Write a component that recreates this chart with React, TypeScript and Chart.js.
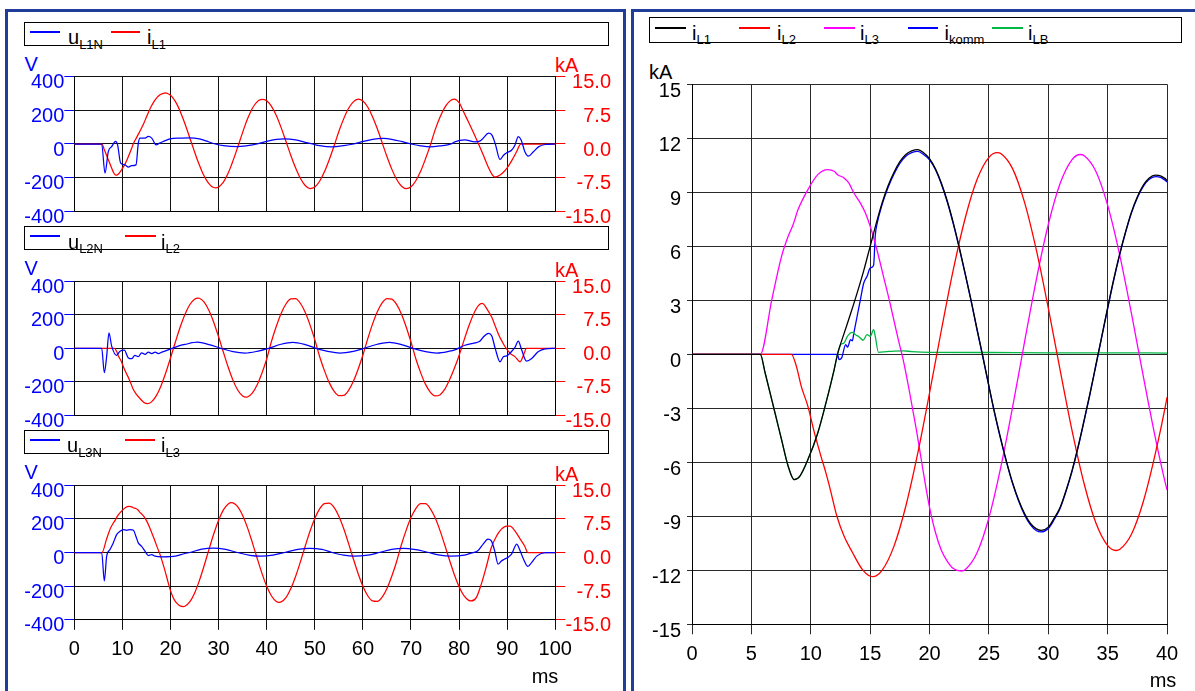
import React, { useEffect, useRef } from "react";
import { Chart, registerables } from "chart.js";

Chart.register(...registerables);

const FONT = 'Arial, "Liberation Sans", Helvetica, sans-serif';

// ---------------- data (ms / kA / V) ----------------

// i_L1 (kA)
const IL1_T = [
  0, 5.75, 6.16, 6.99, 7.54, 8.1, 8.6, 9.07, 9.76, 10.59, 11.28, 11.97, 12.25,
  12.8, 13.35, 13.9, 14.46,
  15, 15.5, 16, 16.5, 17, 17.5, 18, 18.5, 19, 19.5, 20, 20.5, 21, 21.5, 22, 22.5, 23, 23.5, 24, 24.5,
  25, 25.5, 26, 26.5, 27, 27.5, 28, 28.5, 29, 29.4,
  30, 30.5, 31, 31.5, 32, 32.5, 33, 33.5, 34, 34.5, 35, 35.5, 36, 36.5, 37, 37.5, 38, 38.5, 39, 39.5, 40,
  41, 42, 43, 44, 45, 46, 47, 48, 49, 50, 51, 52, 53, 54, 55, 56, 57, 58, 59, 60,
  61, 62, 63, 64, 65, 66, 67, 68, 69, 70, 71, 72, 73, 74, 75, 76, 77, 78, 79, 80,
  81, 82, 83, 84, 85, 86,
  87, 87.4, 88, 89, 90, 91, 92, 92.8, 100,
];
const IL1_V = [
  0, 0, -1.04, -3.26, -4.74, -6.22, -6.96, -6.78, -5.85, -4.37, -2.7, -0.85, 0,
  1.15, 2.25, 3.4, 4.65,
  6.0, 7.25, 8.4, 9.35, 10.1, 10.7, 11.1, 11.3, 11.37, 11.2, 10.87, 10.3, 9.5, 8.5, 7.3, 5.95, 4.5, 3.0, 1.4, -0.15,
  -1.75, -3.3, -4.7, -6.0, -7.15, -8.1, -8.85, -9.4, -9.7, -9.78,
  -9.6, -9.1, -8.5, -7.55, -6.45, -5.15, -3.7, -2.2, -0.6, 1.0, 2.6, 4.15, 5.55, 6.8, 7.9, 8.75, 9.4, 9.8, 9.95, 9.9, 9.65,
  8.4, 6.35, 3.65, 0.6, -2.5, -5.3, -7.65, -9.25, -9.93, -9.6, -8.3, -6.2, -3.5, -0.45, 2.8, 5.6, 7.9, 9.4, 10.0, 9.6,
  8.25, 6.1, 3.4, 0.3, -2.8, -5.6, -7.85, -9.35, -9.95, -9.55, -8.2, -6.1, -3.35, -0.3, 3.1, 5.9, 8.1, 9.5, 10.0, 9.2,
  7.0, 4.8, 2.5, 0.1, -2.4, -5.0,
  -7.0, -7.35, -7.2, -6.5, -5.3, -3.6, -1.6, 0, 0,
];

// i_L2 (kA)
const IL2_T = [
  0, 8.37, 8.79, 9.2, 9.76, 10.31, 10.86, 11.28, 11.64, 12.2, 12.8, 13.5, 14.4, 15.2,
  16, 17, 18, 19, 20, 21, 22, 23, 24, 25, 25.7,
  26, 27, 28, 29, 30, 31, 32, 33, 34, 35, 35.7,
  36, 37, 38, 39, 40, 41, 42, 43, 44, 45, 46, 47, 48, 49, 50, 51, 52, 53, 54, 55,
  56, 57, 58, 59, 60, 61, 62, 63, 64, 65, 66, 67, 68, 69, 70, 71, 72, 73, 74, 75,
  76, 77, 78, 79, 80, 81, 82, 83, 84,
  84.8, 85, 86, 86.8, 87.5, 88.2, 89, 89.5, 90.6, 91.6, 92.7, 93.4, 94, 100,
];
const IL2_V = [
  0, 0, -0.67, -1.78, -2.89, -4.37, -5.67, -6.6, -7.5, -9.0, -10.1, -11.0, -12.0, -12.35,
  -12.0, -10.67, -8.44, -5.52, -2.15, 1.35, 4.7, 7.56, 9.71, 10.94, 11.2,
  11.15, 10.3, 8.44, 5.77, 2.56, -0.89, -4.24, -7.15, -9.36, -10.63, -10.9,
  -10.85, -10.0, -8.18, -5.55, -2.38, 1.58, 4.92, 7.78, 9.88, 11.01, 11.07, 10.04, 8.03, 5.23, 1.92, -1.83, -4.98, -7.65, -9.56, -10.54,
  -10.49, -9.41, -7.41, -4.68, -1.5, 2.1, 5.39, 8.15, 10.12, 11.09, 10.98, 9.79, 7.66, 4.76, 1.4, -2.32, -5.42, -7.99, -9.78, -10.61,
  -10.39, -9.17, -7.04, -4.5, -1.6, 1.7, 4.9, 7.6, 9.5,
  10.0, 9.95, 8.4, 6.9, 5.0, 3.1, 1.4, 0.45, -1.1, -1.86, -3.0, -1.5, 0, 0,
];

// i_L3 (kA)
const IL3_T = [
  0, 5.75, 6.72, 7.54, 8.1, 8.51, 8.93, 9.76, 10.59, 11.42, 11.97, 12.25, 12.8, 13.2, 13.63, 14.18, 14.6,
  15.01, 15.57, 16.12, 16.67, 17.37, 17.78, 18.33, 18.89, 19.44, 19.72, 20, 20.5, 21, 21.5, 22, 22.66,
  23, 24, 25, 26, 27, 28, 29, 30, 31, 32, 32.7,
  33, 34, 35, 36, 37, 38, 39, 40, 41, 42, 42.6,
  43, 44, 45, 46, 47, 48, 49, 50, 51, 52, 53, 54, 55, 56, 57, 58, 59, 60, 61, 62,
  63, 64, 65, 66, 67, 68, 69, 70, 71, 72, 73, 74, 75, 76, 77, 78, 79, 80, 81, 82, 82.5,
  83.6, 84.6, 85.7, 86.7, 87.8, 88.8, 89.9, 90.6, 91.6, 92.7, 93.6, 94.3, 100,
];
const IL3_V = [
  0, 0, 3.04, 5.44, 6.56, 7.2, 8.04, 9.15, 9.98, 10.26, 10.17, 9.98, 9.8, 9.52, 8.96, 8.4, 7.85,
  7.1, 5.81, 4.33, 2.85, 0.81, -0.3, -2.15, -4.19, -6.4, -7.5, -8.5, -9.9, -10.9, -11.5, -11.9, -12.04,
  -11.97, -11.03, -9.08, -6.27, -2.91, 0.69, 4.18, 7.21, 9.5, 10.82, 11.1,
  11.05, 10.17, 8.27, 5.55, 2.27, -1.23, -4.6, -7.54, -9.69, -10.9, -11.1,
  -11.01, -10.05, -8.09, -5.35, -2.08, 1.39, 4.73, 7.6, 9.72, 10.9, 11.01, 10.05, 8.09, 5.35, 2.08, -1.38, -4.69, -7.54, -9.64, -10.8,
  -10.91, -9.96, -8.02, -5.3, -2.06, 1.72, 4.99, 7.78, 9.8, 10.87, 10.87, 9.8, 7.78, 4.99, 1.72, -1.68, -4.9, -7.64, -9.62, -10.67, -10.8,
  -10.0, -7.1, -3.0, 1.1, 3.7, 5.2, 5.9, 5.9, 4.8, 3.0, 1.5, 0, 0,
];

// i_komm (kA)
const IKOMM_T = [
  0, 12.25, 12.39, 12.6, 12.94, 13.1, 13.35, 13.5, 13.63, 13.9, 14.18, 14.46, 14.74, 15.01, 15.29, 15.43, 15.6,
  16, 16.5, 17, 17.5, 18, 18.5, 19, 19.5, 20, 20.5, 21, 21.5, 22, 22.5, 23, 23.5, 24, 24.5,
  25, 25.5, 26, 26.5, 27, 27.5, 28, 28.5, 29, 29.4,
  30, 30.5, 31, 31.5, 32, 32.5, 33, 33.5, 34, 34.5, 35, 35.5, 36, 36.5, 37, 37.5, 38, 38.5, 39, 39.5, 40,
];
const IKOMM_V = [
  0, 0, -0.3, -0.2, 0.54, 0.4, 0.81, 0.75, 1.19, 2.1, 3.04, 3.96, 4.33, 4.8, 4.95, 6.6, 7.3,
  8.3, 9.25, 10.0, 10.6, 11.0, 11.2, 11.27, 11.1, 10.8, 10.25, 9.45, 8.45, 7.25, 5.9, 4.45, 2.95, 1.35, -0.2,
  -1.8, -3.35, -4.75, -6.05, -7.2, -8.15, -8.92, -9.48, -9.8, -9.87,
  -9.68, -9.18, -8.55, -7.6, -6.5, -5.2, -3.75, -2.25, -0.65, 0.95, 2.55, 4.1, 5.5, 6.75, 7.85, 8.7, 9.33, 9.72, 9.87, 9.82, 9.58,
];

// i_LB (kA)
const ILB_T = [
  0, 5.75, 6.16, 6.99, 7.54, 8.1, 8.6, 9.07, 9.76, 10.59, 11.28, 11.97, 12.25,
  12.52, 12.8, 13.08, 13.49, 13.77, 14.1, 14.4, 14.74, 15.01, 15.29, 15.43, 15.7,
  16.4, 17, 17.8, 18.5, 20, 25, 30, 35, 40,
];
const ILB_V = [
  0, 0, -1.04, -3.26, -4.74, -6.22, -6.96, -6.78, -5.85, -4.37, -2.7, -0.85, 0,
  0.54, 0.63, 1.0, 1.22, 1.09, 0.95, 0.78, 1.09, 1.0, 1.37, 1.0, 0.11,
  0.15, 0.18, 0.19, 0.15, 0.11, 0.1, 0.08, 0.08, 0.07,
];

// u_L1N (V)
const U1_T = [
  0, 5.69, 6.38, 7.07, 7.77, 8.6, 9.0, 9.64, 10.54, 11.23, 11.9, 12.83, 13.31, 13.65, 14.7,
  15.4, 16.1, 17.0, 17.7, 18.5, 19.3, 19.9, 22.0, 24.05, 26, 28, 29.3, 31, 33.9, 36,
  38, 40, 42, 43.7, 46, 48, 49.5, 51, 53.6, 56, 58.1, 60, 62, 64.3, 66,
  68, 70, 72, 74.1, 76, 78.3, 79.1, 81.2, 83.3, 84.3, 85.0, 86.1, 86.8, 87.5, 88.5,
  89.2, 89.9, 90.9, 91.6, 92.3, 92.9, 93.7, 94.4, 95.4, 96.5, 97.9, 100,
];
const U1_V = [
  0, 0, -173, -45, -15, 15, -5, -114, -124, -137, -129, -124, 5, 35, 35,
  45, 35, -5, 5, 15, 25, 31, 35, 37, 30, 12, 0, -10, -16, -10,
  0, 16, 27, 30, 24, 10, 0, -10, -17, -10, 0, 15, 28, 33, 28,
  15, 0, -11, -17, -11, 0, 13, 24, 13, 17, 34, 64, 54, 3, -92,
  -68, -52, -37, -7, 44, 24, -48, -72, -48, -17, -3, 0,
];

// u_L2N (V)
const U2_T = [
  0, 5.7, 6.24, 6.73, 7.21, 7.77, 8.8, 9.5, 10.4, 11.2, 11.9, 12.6, 13.3, 14.0, 14.7,
  15.4, 16.1, 16.8, 17.5, 18.2, 20.1, 21.6, 23.0, 25.6, 28, 30.5, 33, 35.5, 38, 40.4,
  43, 45.4, 48, 50.3, 53, 55.2, 58, 60.2, 63, 65.5, 68, 70.4, 73, 75.4, 78,
  79.1, 81.2, 83.3, 84.3, 85.0, 86.1, 86.8, 87.5, 88.5, 89.2, 89.9, 90.9, 91.6, 92.3, 93.0,
  94.0, 95.1, 96.5, 97.9, 100,
];
const U2_V = [
  0, 0, -145, -47, 91, 13, -42, -17, -11, -56, -62, -42, -50, -27, -36,
  -23, -31, -23, -31, -23, -3, 13, 23, 36, 22, 0, -20, -28, -18, 0,
  24, 35, 22, 0, -20, -28, -18, 0, 24, 35, 22, 0, -20, -28, -17,
  -9, 18, 32, 42, 66, 89, 73, 0, -80, -50, -45, -19, 5, 42, -9,
  -76, -60, -19, -3, 0,
];

// u_L3N (V)
const U3_T = [
  0, 5.7, 6.24, 6.73, 7.42, 8.1, 8.8, 9.5, 10.2, 10.9, 11.6, 12.3, 12.8, 13.3, 14.0,
  14.7, 15.4, 16.1, 16.8, 18.2, 19.9, 21.0, 23.0, 24, 26.5, 28.9, 31.5, 33.9, 36.5, 38.8,
  41.3, 43.7, 46.5, 49, 51.5, 53.6, 56, 58.1, 61, 63.4, 66, 68.4, 71, 73.7, 76,
  78.2, 81.1, 82.5, 83.9, 85.0, 86.0, 86.7, 87.4, 88.1, 88.8, 89.4, 90.1, 90.9, 92.0, 92.4,
  93.4, 94.3, 95.1, 96.2, 97.9, 100,
];
const U3_V = [
  0, 0, -169, -22, 18, 57, 106, 126, 136, 132, 136, 132, 97, 57, 37,
  8, -18, -12, -22, -26, -25, -22, -6, 0, 20, 26, 18, 0, -17, -22,
  -16, 0, 19, 25, 18, 0, -16, -22, -16, 0, 19, 25, 17, 0, -16,
  -22, -16, -4, 10, 50, 79, 69, 10, -69, -50, -40, -30, -10, 50, 30,
  -40, -83, -59, -20, 0, 0,
];

// axis ranges / ticks
const LEFT_X = { min: 0, max: 100, step: 10 };
const LEFT_V = { min: -400, max: 400, step: 200 };
const LEFT_KA = { min: -15, max: 15, step: 7.5 };
const RIGHT_X = { min: 0, max: 40, step: 5 };
const RIGHT_KA = { min: -15, max: 15, step: 3 };

// legend labels
const LEFT_LEGENDS = [
  [["u", "L1N"], ["i", "L1"]],
  [["u", "L2N"], ["i", "L2"]],
  [["u", "L3N"], ["i", "L3"]],
];
const RIGHT_LEGEND = [["i", "L1"], ["i", "L2"], ["i", "L3"], ["i", "komm"], ["i", "LB"]];

const BLUE = "#0000ff";
const RED = "#ff0000";
const MAGENTA = "#ff00ff";
const GREEN = "#00b845";
const BLACK = "#000000";

// ---------------- helpers ----------------

const pts = (t: number[], v: number[]) => {
  const n = Math.min(t.length, v.length);
  const out: { x: number; y: number }[] = [];
  for (let i = 0; i < n; i++) out.push({ x: t[i], y: v[i] });
  return out;
};

const ds = (data: any, color: string, axis: string, width = 1.25) => ({
  data,
  borderColor: color,
  backgroundColor: color,
  borderWidth: width,
  pointRadius: 0,
  fill: false,
  yAxisID: axis,
  cubicInterpolationMode: "monotone" as const,
});

function ChartCanvas(props: { left: number; top: number; width: number; height: number; build: () => any }) {
  const ref = useRef<HTMLCanvasElement | null>(null);
  useEffect(() => {
    if (!ref.current) return;
    const c = new Chart(ref.current, props.build());
    return () => c.destroy();
  }, []);
  return (
    <canvas
      ref={ref}
      width={props.width}
      height={props.height}
      style={{ position: "absolute", left: props.left, top: props.top, width: props.width, height: props.height }}
    />
  );
}

const tickFont = { size: 20, family: FONT };

function leftConfig(u: any, i: any, showX: boolean, padTop: number, padBottom: number) {
  return {
    type: "line",
    data: { datasets: [ds(u, BLUE, "y"), ds(i, RED, "y1")] },
    options: {
      animation: false,
      responsive: false,
      events: [],
      layout: { padding: { top: padTop, left: 0, right: 13, bottom: padBottom } },
      plugins: { legend: { display: false }, tooltip: { enabled: false } },
      scales: {
        x: {
          type: "linear",
          min: LEFT_X.min,
          max: LEFT_X.max,
          afterFit: (s: any) => { s.height = showX ? 40 : 0; },
          ticks: { display: showX, stepSize: LEFT_X.step, autoSkip: false, maxRotation: 0, padding: 7.3, color: BLACK, font: tickFont },
          grid: { color: "#111", lineWidth: 1, drawTicks: showX, tickLength: 10, tickColor: "#111" },
          border: { display: true, color: "#000", width: 1 },
        },
        y: {
          type: "linear",
          position: "left",
          min: LEFT_V.min,
          max: LEFT_V.max,
          afterFit: (s: any) => { s.width = 60.3; },
          ticks: { stepSize: LEFT_V.step, color: BLUE, padding: 0, labelOffset: 6, font: tickFont },
          grid: { color: "#111", lineWidth: 1, tickColor: BLUE, tickLength: 10 },
          border: { display: true, color: "#000", width: 1 },
        },
        y1: {
          type: "linear",
          position: "right",
          min: LEFT_KA.min,
          max: LEFT_KA.max,
          afterFit: (s: any) => { s.width = 55.7; },
          ticks: {
            stepSize: LEFT_KA.step,
            color: RED,
            padding: 1,
            labelOffset: 6,
            crossAlign: "far",
            font: tickFont,
            callback: (v: any) => Number(v).toFixed(1),
          },
          grid: { drawOnChartArea: false, color: RED, tickColor: RED, tickLength: 10 },
          border: { display: true, color: "#000", width: 1 },
        },
      },
    },
  };
}

function rightConfig() {
  return {
    type: "line",
    data: {
      datasets: [
        ds(pts(IL1_T, IL1_V), BLACK, "y", 1.3),
        ds(pts(IL2_T, IL2_V), RED, "y", 1.3),
        ds(pts(IL3_T, IL3_V), MAGENTA, "y", 1.3),
        ds(pts(ILB_T, ILB_V), GREEN, "y", 1.3),
        ds(pts(IKOMM_T, IKOMM_V), BLUE, "y", 1.3),
      ],
    },
    options: {
      animation: false,
      responsive: false,
      events: [],
      layout: { padding: { top: 19.3, left: 0, right: 12, bottom: 15.7 } },
      plugins: { legend: { display: false }, tooltip: { enabled: false } },
      scales: {
        x: {
          type: "linear",
          min: RIGHT_X.min,
          max: RIGHT_X.max,
          afterFit: (s: any) => { s.height = 50; },
          ticks: { stepSize: RIGHT_X.step, autoSkip: false, maxRotation: 0, padding: 7.8, color: BLACK, font: tickFont },
          grid: { color: "#2a2a2a", lineWidth: 1, tickLength: 10, tickColor: "#2a2a2a" },
          border: { display: true, color: "#000", width: 1 },
        },
        y: {
          type: "linear",
          min: RIGHT_KA.min,
          max: RIGHT_KA.max,
          afterFit: (s: any) => { s.width = 56; },
          ticks: { stepSize: RIGHT_KA.step, color: BLACK, padding: 6, labelOffset: 7, font: tickFont },
          grid: { color: "#2a2a2a", lineWidth: 1, tickLength: 5, tickColor: "#2a2a2a" },
          border: { display: true, color: "#000", width: 1 },
        },
      },
    },
  };
}

// ---------------- layout pieces ----------------

function Txt(p: { left: number; top: number; color?: string; size?: number; children: any }) {
  const size = p.size ?? 20;
  return (
    <div
      style={{
        position: "absolute",
        left: p.left,
        top: p.top,
        color: p.color ?? "#000",
        fontSize: size,
        lineHeight: `${size}px`,
        whiteSpace: "nowrap",
      }}
    >
      {p.children}
    </div>
  );
}

function Sub(p: { main: string; sub: string; left: number; top: number; shift: number }) {
  return (
    <Txt left={p.left} top={p.top}>
      {p.main}
      <span style={{ fontSize: 13, lineHeight: "13px", position: "relative", top: p.shift }}>{p.sub}</span>
    </Txt>
  );
}

function LegendLine(p: { x1: number; x2: number; y: number; color: string }) {
  return (
    <div
      style={{
        position: "absolute",
        left: Math.round(p.x1),
        top: Math.round(p.y) - 1,
        width: Math.round(p.x2 - p.x1),
        height: 1.5,
        background: p.color,
      }}
    />
  );
}

const LEFT_TOPS = [76.7, 281.0, 485.2];
const PLOT_H = 134.6;
const LEG_TOPS = [21.7, 226.2, 430.0];
const LEG_LINES = [
  [[30, 60, 68], [111, 140, 147]],
  [[30, 60, 68], [124.5, 155, 161]],
  [[30, 60, 67], [125, 155, 161]],
];

export default function App() {
  const u = [pts(U1_T, U1_V), pts(U2_T, U2_V), pts(U3_T, U3_V)];
  const i = [pts(IL1_T, IL1_V), pts(IL2_T, IL2_V), pts(IL3_T, IL3_V)];
  const panelBorder = "3px solid #1f3d99";
  const rightLines = [
    [655, 686, 692],
    [739, 770, 777],
    [823.5, 854.7, 860],
    [908, 938, 944.5],
    [991.5, 1022, 1028],
  ];
  const rightColors = [BLACK, RED, MAGENTA, BLUE, GREEN];

  return (
    <div
      style={{
        position: "fixed",
        left: 0,
        top: 0,
        width: 1195,
        height: 691,
        background: "#fff",
        overflow: "hidden",
        fontFamily: FONT,
      }}
    >
      {/* panel frames */}
      <div style={{ position: "absolute", left: 5, top: 9, width: 621, height: 720, border: panelBorder, boxSizing: "border-box" }} />
      <div style={{ position: "absolute", left: 631, top: 9, width: 620, height: 720, border: panelBorder, boxSizing: "border-box" }} />

      {/* left charts */}
      {[0, 1, 2].map((k) => {
        const T = LEFT_TOPS[k];
        const canvasTop = Math.floor(T - 17);
        const padTop = T - canvasTop;
        const showX = k === 2;
        const h = showX ? 202 : 171;
        const padBottom = h - padTop - PLOT_H - (showX ? 40 : 0);
        const lt = LEG_TOPS[k];
        const lines = LEG_LINES[k];
        return (
          <React.Fragment key={k}>
            <div
              style={{
                position: "absolute",
                left: 24,
                top: lt,
                width: 585,
                height: 24,
                border: "1.5px solid #000",
                boxSizing: "border-box",
              }}
            />
            <LegendLine x1={lines[0][0]} x2={lines[0][1]} y={lt + 10} color={BLUE} />
            <Sub main={LEFT_LEGENDS[k][0][0]} sub={LEFT_LEGENDS[k][0][1]} left={lines[0][2]} top={lt + 5.4} shift={4.5} />
            <LegendLine x1={lines[1][0]} x2={lines[1][1]} y={lt + 10} color={RED} />
            <Sub main={LEFT_LEGENDS[k][1][0]} sub={LEFT_LEGENDS[k][1][1]} left={lines[1][2]} top={lt + 5.4} shift={4.5} />
            <Txt left={24.5} top={T - 23} color={BLUE}>V</Txt>
            <Txt left={555} top={T - 21.5} color={RED}>kA</Txt>
            <ChartCanvas
              left={14}
              top={canvasTop}
              width={610}
              height={h}
              build={() => leftConfig(u[k], i[k], showX, padTop, padBottom)}
            />
          </React.Fragment>
        );
      })}
      <Txt left={531.7} top={666.3}>ms</Txt>

      {/* right chart */}
      <div
        style={{
          position: "absolute",
          left: 649,
          top: 17,
          width: 533,
          height: 26,
          border: "1.5px solid #000",
          boxSizing: "border-box",
        }}
      />
      {RIGHT_LEGEND.map((lab, k) => (
        <React.Fragment key={k}>
          <LegendLine x1={rightLines[k][0]} x2={rightLines[k][1]} y={28} color={rightColors[k]} />
          <Sub main={lab[0]} sub={lab[1]} left={rightLines[k][2]} top={23.1} shift={3.5} />
        </React.Fragment>
      ))}
      <Txt left={649} top={62.4}>kA</Txt>
      <ChartCanvas left={636} top={65} width={550} height={625} build={rightConfig} />
      <Txt left={1149.7} top={670.3}>ms</Txt>
    </div>
  );
}
